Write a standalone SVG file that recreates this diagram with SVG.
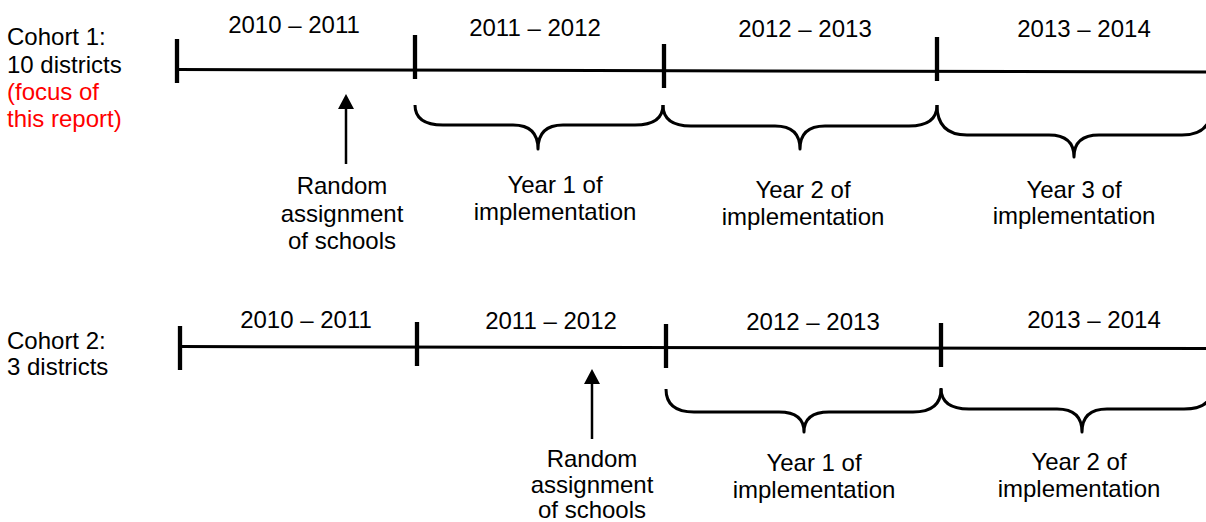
<svg xmlns="http://www.w3.org/2000/svg" width="1206" height="522" viewBox="0 0 1206 522">
<defs>
<style>
text{font-family:"Liberation Sans",Arial,sans-serif;font-size:24px;fill:#000}
.c{text-anchor:middle}
.red{fill:#f00}
.axis{stroke:#000;stroke-width:3;fill:none}
.tick{stroke:#000;stroke-width:4.3;fill:none}
.brace{stroke:#000;stroke-width:3;fill:none;stroke-linejoin:round}
.arrow{stroke:#000;stroke-width:2.5;fill:none}
</style>
<marker id="ah" markerUnits="userSpaceOnUse" markerWidth="15" markerHeight="16" refX="0" refY="8" orient="auto" viewBox="0 0 15 16">
<path d="M0,0 L15,8 L0,16 z" fill="#000"/>
</marker>
</defs>
<rect width="1206" height="522" fill="#fff"/>

<g id="cohort1-label">
<text x="7" y="45">Cohort 1:</text>
<text x="7" y="73">10 districts</text>
<text x="7" y="100" class="red">(focus of</text>
<text x="7" y="127" class="red">this report)</text>
</g>

<g id="cohort1-timeline">
<line class="axis" x1="177" y1="69.5" x2="1206" y2="72"/>
<line class="tick" x1="177" y1="39" x2="177" y2="83"/>
<line class="tick" x1="415" y1="35" x2="415" y2="79"/>
<line class="tick" x1="664" y1="44" x2="664" y2="88"/>
<line class="tick" x1="937" y1="37" x2="937" y2="81"/>
<text class="c" x="294" y="33">2010 – 2011</text>
<text class="c" x="535" y="36">2011 – 2012</text>
<text class="c" x="805" y="37">2012 – 2013</text>
<text class="c" x="1084" y="37">2013 – 2014</text>
</g>

<g id="cohort1-year1">
<path class="brace" d="M415,105 Q415,125 443,125 L513,125 Q538,125 538,149 Q538,125 563,125 L635,125 Q663,125 663,105"/>
<text class="c" x="555" y="193">Year 1 of</text>
<text class="c" x="555" y="220">implementation</text>
</g>
<g id="cohort1-year2">
<path class="brace" d="M663,105 Q663,126 691,126 L775,126 Q800,126 800,149 Q800,126 825,126 L909,126 Q937,126 937,105"/>
<text class="c" x="803" y="198">Year 2 of</text>
<text class="c" x="803" y="225">implementation</text>
</g>
<g id="cohort1-year3">
<path class="brace" d="M937,105 Q937,135 967,135 L1049,135 Q1074,135 1074,157 Q1074,135 1099,135 L1182,135 Q1212,135 1212,105"/>
<text class="c" x="1074" y="198">Year 3 of</text>
<text class="c" x="1074" y="224">implementation</text>
</g>
<g id="cohort1-random">
<text class="c" x="342" y="194">Random</text>
<text class="c" x="342" y="222">assignment</text>
<text class="c" x="342" y="249">of schools</text>
</g>

<g id="cohort2-label">
<text x="7" y="349">Cohort 2:</text>
<text x="7" y="375">3 districts</text>
</g>

<g id="cohort2-timeline">
<line class="axis" x1="180" y1="346.5" x2="1206" y2="348.5"/>
<line class="tick" x1="180" y1="326" x2="180" y2="370"/>
<line class="tick" x1="417" y1="322" x2="417" y2="366"/>
<line class="tick" x1="666" y1="324" x2="666" y2="368"/>
<line class="tick" x1="941" y1="323" x2="941" y2="367"/>
<text class="c" x="306" y="328">2010 – 2011</text>
<text class="c" x="551" y="329">2011 – 2012</text>
<text class="c" x="813" y="330">2012 – 2013</text>
<text class="c" x="1094" y="328">2013 – 2014</text>
</g>

<g id="cohort2-year1">
<path class="brace" d="M666,389 Q666,412 694,412 L779,412 Q804,412 804,432 Q804,412 829,412 L913,412 Q941,412 941,389"/>
<text class="c" x="814" y="471">Year 1 of</text>
<text class="c" x="814" y="498">implementation</text>
</g>
<g id="cohort2-year2">
<path class="brace" d="M941,388 Q941,409 969,409 L1057,409 Q1082,409 1082,432 Q1082,409 1107,409 L1184,409 Q1212,409 1212,388"/>
<text class="c" x="1079" y="470">Year 2 of</text>
<text class="c" x="1079" y="497">implementation</text>
</g>
<g id="cohort2-random">
<text class="c" x="592" y="467">Random</text>
<text class="c" x="592" y="493">assignment</text>
<text class="c" x="592" y="518">of schools</text>
</g>

<g id="connectors">
<line class="arrow" x1="346" y1="164" x2="346" y2="109" marker-end="url(#ah)"/>
<line class="arrow" x1="592" y1="439" x2="592" y2="384" marker-end="url(#ah)"/>
</g>
</svg>
